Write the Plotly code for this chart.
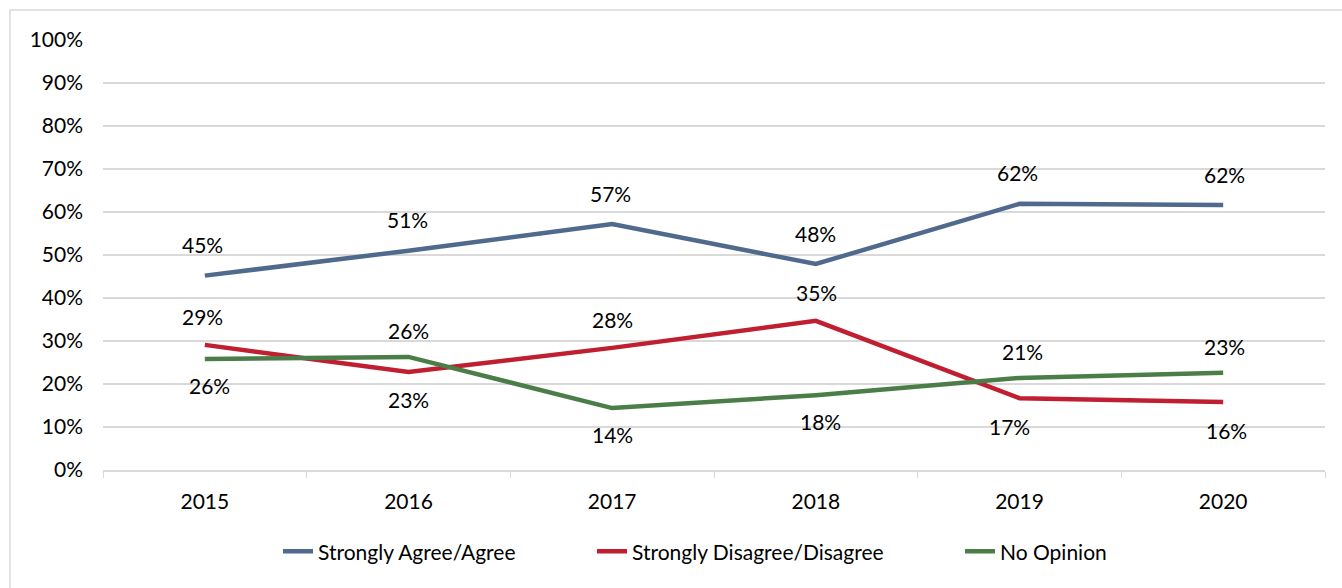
import plotly.graph_objects as go

years = ["2015", "2016", "2017", "2018", "2019", "2020"]
agree = [45.2, 51.0, 57.2, 47.9, 61.9, 61.6]
disagree = [29.1, 22.8, 28.4, 34.7, 16.7, 15.8]
no_opinion = [25.8, 26.3, 14.4, 17.4, 21.4, 22.6]

agree_labels = ["45%", "51%", "57%", "48%", "62%", "62%"]
disagree_labels = ["29%", "23%", "28%", "35%", "17%", "16%"]
no_opinion_labels = ["26%", "26%", "14%", "18%", "21%", "23%"]

# label placement: +1 above, -1 below
disagree_pos = [1, -1, 1, 1, -1, -1]
no_opinion_pos = [-1, 1, -1, -1, 1, 1]
disagree_dx = [-2, 0, 0, 1, -10, 3]
no_opinion_dx = [5, 0, 0, 5, 3, 1]
agree_dx = [-2, -1, -2, 0, -2, 1]

FONT = "Lato"
FS = 21
C_BLUE = "#4F6A8D"
C_RED = "#C01F31"
C_GREEN = "#4B7D48"

fig = go.Figure()
fig.add_trace(go.Scatter(x=years, y=agree, mode="lines", name="Strongly Agree/Agree",
                         line=dict(color=C_BLUE, width=4.5), legend="legend"))
fig.add_trace(go.Scatter(x=years, y=disagree, mode="lines", name="Strongly Disagree/Disagree",
                         line=dict(color=C_RED, width=4.5), legend="legend2"))
fig.add_trace(go.Scatter(x=years, y=no_opinion, mode="lines", name="No Opinion",
                         line=dict(color=C_GREEN, width=4.5), legend="legend3"))

lab_font = dict(family=FONT, size=FS, color="#000000")
for i, yr in enumerate(years):
    fig.add_annotation(x=i, y=agree[i], xref="x", yref="y", text=agree_labels[i],
                       showarrow=False, yshift=31, xshift=agree_dx[i], font=lab_font)
    fig.add_annotation(x=i, y=disagree[i], xref="x", yref="y", text=disagree_labels[i],
                       showarrow=False, yshift=28 * disagree_pos[i], xshift=disagree_dx[i],
                       font=lab_font)
    fig.add_annotation(x=i, y=no_opinion[i], xref="x", yref="y", text=no_opinion_labels[i],
                       showarrow=False, yshift=26 * no_opinion_pos[i], xshift=no_opinion_dx[i],
                       font=lab_font)

L, W = 103, 1222


def leg(text_start_px):
    return dict(orientation="h", x=(text_start_px - 40 - L) / W, xanchor="left",
                y=-0.19, yanchor="middle", font=dict(family=FONT, size=FS),
                bgcolor="rgba(0,0,0,0)")


fig.update_layout(
    width=1342, height=588,
    margin=dict(l=L, r=17, t=40, b=118),
    paper_bgcolor="white", plot_bgcolor="white",
    font=dict(family=FONT, size=FS, color="#000000"),
    showlegend=True,
    legend=leg(318), legend2=leg(632), legend3=leg(1000),
    shapes=[dict(type="rect", xref="paper", yref="paper", x0=-0.0761, x1=1.05,
                 y0=-0.35, y1=1.0698, line=dict(color="#D9D9D9", width=1.5),
                 fillcolor="rgba(0,0,0,0)", layer="below")],
)
fig.update_xaxes(type="category", range=[-0.5, 5.5], showgrid=False,
                 showline=True, linecolor="#D9D9D9", linewidth=1.5,
                 ticks="outside", tickson="boundaries", ticklen=6, tickcolor="#D9D9D9",
                 ticklabelstandoff=12, tickfont=dict(family=FONT, size=FS))
fig.update_yaxes(range=[0, 100], dtick=10, ticksuffix="%", showgrid=True,
                 gridcolor="#D9D9D9", gridwidth=1.5, zeroline=False,
                 ticklabelstandoff=19, tickfont=dict(family=FONT, size=FS))

fig.write_html("out.html", config={"displayModeBar": False},
               post_script="document.body.style.margin='0px';")
